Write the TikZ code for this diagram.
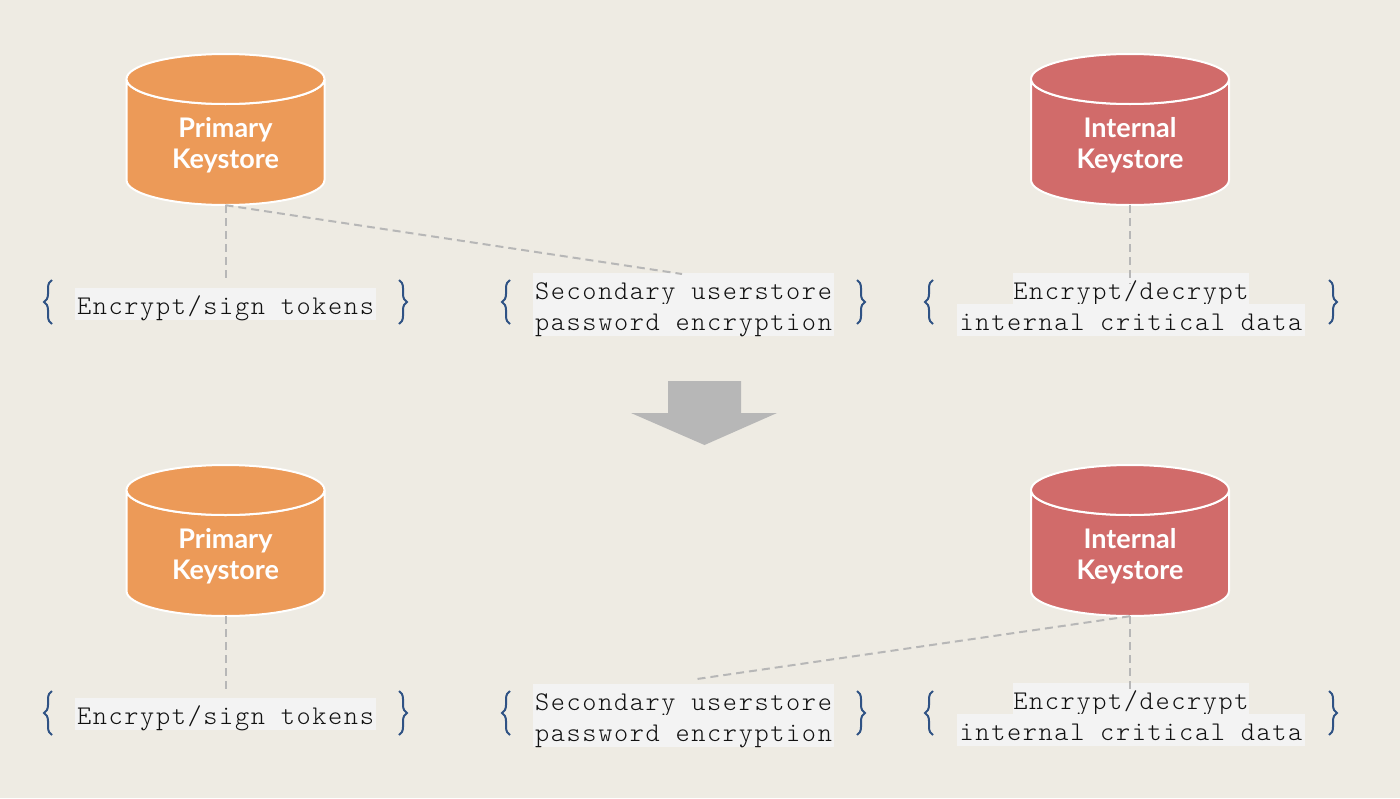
\documentclass[tikz,border=0pt]{standalone}
\usepackage{fontspec}
\usetikzlibrary{decorations.pathreplacing}
\setmainfont{Lato}
\newfontfamily\codefont[LetterSpace=6]{Latin Modern Mono Light}
\definecolor{bgc}{HTML}{EEEBE3}
\definecolor{orangec}{HTML}{EC9A58}
\definecolor{redc}{HTML}{D16B6A}
\definecolor{greyc}{HTML}{B7B7B7}
\definecolor{bandc}{HTML}{F3F3F3}
\definecolor{bracec}{HTML}{2F5284}
\definecolor{codec}{HTML}{111111}
\tikzset{
  x=1pt,y=-1pt,
  ksbody/.style={rectangle,draw=none,minimum width=198,minimum height=151,inner sep=0},
  ksshape/.style={draw=white,line width=2},
  kslabel/.style={text=white,align=center,inner sep=0,font=\fontsize{27}{31}\selectfont\bfseries},
  band/.style={fill=bandc,text=codec,inner sep=0,anchor=base,text height=26.5,text depth=5.5,font=\fontsize{27}{31}\selectfont\codefont},
  dashline/.style={draw=greyc,line width=2,dash pattern=on 8pt off 5pt},
  bracel/.style={draw=bracec,line width=2,decorate,decoration={brace,amplitude=8,aspect=0.5}},
}
\newcommand{\keystore}[5]{%
  % #1 name, #2 x, #3 top-of-cylinder y, #4 colour, #5 label
  \node[ksbody] (#1) at (#2,#3+75.5) {};
  \path[ksshape,fill=#4] (#2-99,#3+25) -- (#2-99,#3+126)
    arc[start angle=180,end angle=0,x radius=99,y radius=25]
    -- (#2+99,#3+25)
    arc[start angle=0,end angle=180,x radius=99,y radius=25] -- cycle;
  \path[ksshape,fill=#4] (#2,#3+25) ellipse[x radius=99,y radius=25];
  \node[kslabel] (#1text) at (#2,#3+91) {#5};
}
\newcommand{\bracepair}[4]{%
  % #1 left x, #2 right x, #3 top y, #4 bottom y
  \draw[bracel] (#1,#4) -- (#1,#3);
  \draw[bracel] (#2,#3) -- (#2,#4);
}
\begin{document}
\begin{tikzpicture}
\useasboundingbox (0,0) rectangle (1400,798);
\fill[bgc] (0,0) rectangle (1400,798);

% upper row
\keystore{pka}{225.5}{54}{orangec}{Primary\\Keystore}
\keystore{ika}{1130}{54}{redc}{Internal\\Keystore}
\node[band,minimum width=301] (ta) at (225.5,314) {Encrypt/sign tokens};
\node[band,minimum width=301] (tb) at (683.5,299) {Secondary userstore};
\node[band,minimum width=301] (tc) at (683.5,330) {password encryption};
\node[band,minimum width=236] (td) at (1131,299) {Encrypt/decrypt};
\node[band,minimum width=348] (te) at (1131,330) {internal critical data};
\coordinate (ca) at (225.5,282);
\coordinate (cb) at (682,274);
\coordinate (cc) at (1130,284);
\draw[dashline] (pka.south) -- (ca);
\draw[dashline] (pka.south) -- (cb);
\draw[dashline] (ika.south) -- (cc);
\bracepair{52}{399}{280}{324}
\bracepair{510}{857}{280}{324}
\bracepair{933}{1329}{280}{324}

% arrow
\fill[greyc] (668,381) -- (741,381) -- (741,413) -- (777,413) -- (704.5,445) -- (631,413) -- (668,413) -- cycle;

% lower row
\keystore{pkb}{225.5}{465}{orangec}{Primary\\Keystore}
\keystore{ikb}{1130}{465}{redc}{Internal\\Keystore}
\node[band,minimum width=301] (tf) at (225.5,724.5) {Encrypt/sign tokens};
\node[band,minimum width=301] (tg) at (683.5,710) {Secondary userstore};
\node[band,minimum width=301] (th) at (683.5,741) {password encryption};
\node[band,minimum width=236] (ti) at (1131,709.5) {Encrypt/decrypt};
\node[band,minimum width=348] (tj) at (1131,740.5) {internal critical data};
\coordinate (cd) at (225.5,693);
\coordinate (ce) at (697,679);
\coordinate (cf) at (1130,692);
\draw[dashline] (pkb.south) -- (cd);
\draw[dashline] (ikb.south) -- (ce);
\draw[dashline] (ikb.south) -- (cf);
\bracepair{52}{399}{691}{735}
\bracepair{510}{857}{691}{735}
\bracepair{933}{1329}{691}{735}
\end{tikzpicture}
\end{document}
